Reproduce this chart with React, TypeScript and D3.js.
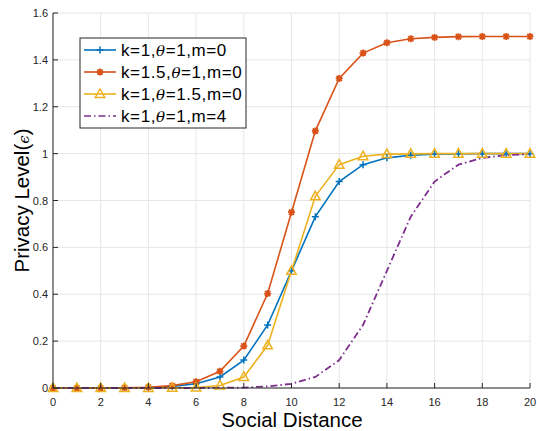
import React from "react";
import * as d3 from "d3";

const xs = [0, 1, 2, 3, 4, 5, 6, 7, 8, 9, 10, 11, 12, 13, 14, 15, 16, 17, 18, 19, 20];
const seriesA = [0, 0, 0, 0.001, 0.002, 0.007, 0.018, 0.047, 0.119, 0.269, 0.5, 0.731, 0.881, 0.953, 0.982, 0.993, 0.998, 0.999, 1, 1, 1];
const seriesB = [0, 0, 0, 0.001, 0.003, 0.01, 0.027, 0.071, 0.179, 0.403, 0.75, 1.097, 1.321, 1.429, 1.473, 1.49, 1.496, 1.499, 1.5, 1.5, 1.5];
const seriesC = [0, 0, 0, 0, 0, 0.001, 0.002, 0.011, 0.047, 0.182, 0.5, 0.818, 0.953, 0.989, 0.998, 0.999, 1, 1, 1, 1, 1];
const seriesD = [0, 0, 0, 0, 0, 0, 0, 0.001, 0.002, 0.007, 0.018, 0.047, 0.119, 0.269, 0.5, 0.731, 0.881, 0.953, 0.982, 0.993, 0.998];
const legendLabels = ["k=1,", "k=1.5,", "k=1,", "k=1,"];
const legendRest = [["1", ",m=0"], ["1", ",m=0"], ["1.5", ",m=0"], ["1", ",m=4"]];
const xTicks = [0, 2, 4, 6, 8, 10, 12, 14, 16, 18, 20];
const yTicks = [0, 0.2, 0.4, 0.6, 0.8, 1, 1.2, 1.4, 1.6];

const colors = ["#0072BD", "#D95319", "#EDB120", "#7E2F8E"];
const markers = ["plus", "star", "tri", "none"];

const L = 53, R = 530, T = 13, B = 388;
const font = "'Liberation Sans', Arial, Helvetica, sans-serif";

function Marker({ type, x, y, color }: { type: string; x: number; y: number; color: string }) {
  if (type === "plus") {
    const s = 3.5;
    return (
      <path d={`M${x - s},${y}H${x + s}M${x},${y - s}V${y + s}`} stroke={color} strokeWidth={1.5} fill="none" />
    );
  }
  if (type === "star") {
    const s = 3.5, d = 2.6;
    return (
      <g>
        <path
          d={`M${x - s},${y}H${x + s}M${x},${y - s}V${y + s}M${x - d},${y - d}L${x + d},${y + d}M${x - d},${y + d}L${x + d},${y - d}`}
          stroke={color}
          strokeWidth={1.8}
          fill="none"
        />
        <circle cx={x} cy={y} r={1.8} fill={color} />
      </g>
    );
  }
  if (type === "tri") {
    const s = 5;
    return (
      <path
        d={`M${x},${y - s}L${x + s * 0.95},${y + s * 0.7}L${x - s * 0.95},${y + s * 0.7}Z`}
        stroke={color}
        strokeWidth={1.5}
        fill="none"
        strokeLinejoin="miter"
      />
    );
  }
  return null;
}

export default function App() {
  const x = d3.scaleLinear().domain([0, 20]).range([L, R]);
  const y = d3.scaleLinear().domain([0, 1.6]).range([B, T]);
  const line = d3
    .line<number>()
    .x((_, i) => x(xs[i]))
    .y((v) => y(v));
  const all = [seriesA, seriesB, seriesC, seriesD];

  const legX = 80, legY = 38, legW = 166, legH = 90;
  const rowY = (i: number) => legY + 12 + i * 22;

  return (
    <svg width={537} height={431} style={{ position: "absolute", left: 0, top: 0 }} fontFamily={font}>
      <rect x={0} y={0} width={537} height={431} fill="#fff" />
      {/* grid */}
      {xTicks.map((t) => (
        <line key={"gx" + t} x1={x(t)} x2={x(t)} y1={T} y2={B} stroke="#e6e6e6" strokeWidth={1} />
      ))}
      {yTicks.map((t) => (
        <line key={"gy" + t} x1={L} x2={R} y1={y(t)} y2={y(t)} stroke="#e6e6e6" strokeWidth={1} />
      ))}
      {/* series */}
      {all.map((s, k) => (
        <path
          key={"l" + k}
          d={line(s) || ""}
          fill="none"
          stroke={colors[k]}
          strokeWidth={k === 3 ? 1.8 : 1.6}
          strokeDasharray={k === 3 ? "7,3,1.5,3" : undefined}
        />
      ))}
      {all.map((s, k) =>
        markers[k] === "none"
          ? null
          : s.map((v, i) => <Marker key={`m${k}-${i}`} type={markers[k]} x={x(xs[i])} y={y(v)} color={colors[k]} />)
      )}
      {/* axes */}
      <line x1={L} x2={L} y1={T} y2={B} stroke="#262626" strokeWidth={1} />
      <line x1={L} x2={R} y1={B} y2={B} stroke="#262626" strokeWidth={1} />
      {xTicks.map((t) => (
        <g key={"xt" + t}>
          <line x1={x(t)} x2={x(t)} y1={B} y2={B - 5} stroke="#262626" />
          <text x={x(t)} y={B + 18} textAnchor="middle" fontSize={11} fill="#262626">
            {t}
          </text>
        </g>
      ))}
      {yTicks.map((t) => (
        <g key={"yt" + t}>
          <line x1={L} x2={L + 5} y1={y(t)} y2={y(t)} stroke="#262626" />
          <text x={L - 5} y={y(t) + 4} textAnchor="end" fontSize={11} fill="#262626">
            {t}
          </text>
        </g>
      ))}
      {/* axis labels */}
      <text x={(L + R) / 2 + 0.5} y={427} textAnchor="middle" fontSize={20.5} fill="#000">
        Social Distance
      </text>
      <text transform={`translate(29,${(T + B) / 2}) rotate(-90)`} textAnchor="middle" fontSize={20.5} fill="#000">
        Privacy Level(<tspan fontStyle="italic" fontSize={15} fontFamily="'DejaVu Serif', serif">ϵ</tspan>)
      </text>
      {/* legend */}
      <rect x={legX} y={legY} width={legW} height={legH} fill="#fff" stroke="#262626" strokeWidth={1} />
      {colors.map((c, i) => (
        <g key={"lg" + i}>
          <line
            x1={legX + 4}
            x2={legX + 36}
            y1={rowY(i)}
            y2={rowY(i)}
            stroke={c}
            strokeWidth={1.6}
            strokeDasharray={i === 3 ? "7,3,1.5,3" : undefined}
          />
          <Marker type={markers[i]} x={legX + 20} y={rowY(i)} color={c} />
          <text x={legX + 41} y={rowY(i) + 6} fontSize={17} letterSpacing={0.6} fill="#000">
            {legendLabels[i]}
            <tspan fontStyle="italic" fontFamily="'DejaVu Serif', serif" fontSize={15}>θ</tspan>
            {"=" + legendRest[i][0] + legendRest[i][1]}
          </text>
        </g>
      ))}
    </svg>
  );
}
